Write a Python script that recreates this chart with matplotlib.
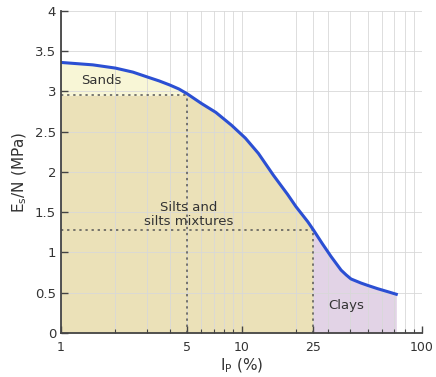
import numpy as np
import matplotlib
matplotlib.use("Agg")
import matplotlib.pyplot as plt
from matplotlib.ticker import FixedLocator, NullFormatter

# Curve: plasticity index (%) vs Es/N (MPa)
ip = [1, 1.5, 2, 2.5, 3, 3.5, 4, 4.5, 5, 6, 7.2, 8.8, 10.5, 12.4, 15, 18, 20, 23.3, 25,
      28, 31.3, 35.6, 38, 40.4, 45.8, 50, 56.6, 65, 72]
esn = [3.36, 3.33, 3.29, 3.24, 3.18, 3.13, 3.08, 3.03, 2.97, 2.85, 2.74, 2.58, 2.42, 2.23,
       1.96, 1.72, 1.57, 1.38, 1.28, 1.11, 0.95, 0.78, 0.72, 0.67, 0.62, 0.59, 0.55, 0.51,
       0.48]

sand_limit = 5
silt_limit = 25
sand_level = 2.95
silt_level = 1.28

xticks = [1, 5, 10, 25, 100]
yticks = [0, 0.5, 1, 1.5, 2, 2.5, 3, 3.5, 4]

ip = np.array(ip)
esn = np.array(esn)

fig = plt.figure(figsize=(4.36, 3.77), dpi=100)
ax = fig.add_axes([0.140, 0.117, 0.828, 0.854])

# filled zones
m = ip <= sand_limit
ax.fill_between(ip[m], sand_level, esn[m], color='#f8f6d6', lw=0, zorder=1)
m = ip <= silt_limit
ax.fill_between(ip[m], 0, np.where(ip[m] < sand_limit, sand_level, esn[m]),
                color='#ebe1b8', lw=0, zorder=1)
m = ip >= silt_limit
ax.fill_between(ip[m], 0, esn[m], color='#e2d3e6', lw=0, zorder=1)

# dotted guide lines
dot = dict(color='#555555', ls=(0, (1.5, 2.5)), lw=1.1, zorder=3)
ax.plot([1, sand_limit], [sand_level, sand_level], **dot)
ax.plot([sand_limit, sand_limit], [0, sand_level], **dot)
ax.plot([1, silt_limit], [silt_level, silt_level], **dot)
ax.plot([silt_limit, silt_limit], [0, silt_level], **dot)

ax.plot(ip, esn, color='#2b4fd3', lw=2.2, zorder=4, solid_joinstyle='round')

ax.set_xscale('log')
ax.set_xlim(1, 100)
ax.set_ylim(0, 4)
ax.xaxis.set_major_locator(FixedLocator(xticks))
ax.set_xticklabels([str(t) for t in xticks])
ax.xaxis.set_minor_locator(FixedLocator([2, 3, 4, 6, 7, 8, 9, 20, 30, 40, 50, 60, 70, 80, 90]))
ax.xaxis.set_minor_formatter(NullFormatter())
ax.set_yticks(yticks)
ax.set_yticklabels(['0', '0.5', '1', '1.5', '2', '2.5', '3', '3.5', '4'])

ax.grid(True, which='both', color='#d8d8d8', lw=0.6, zorder=2)
ax.set_axisbelow(False)
for s in ['top', 'right']:
    ax.spines[s].set_visible(False)
for s in ['left', 'bottom']:
    ax.spines[s].set_color('#444444')
    ax.spines[s].set_linewidth(1.3)
    ax.spines[s].set_zorder(5)

ax.tick_params(which='major', direction='in', length=5, width=1, color='#444444',
               labelsize=9.5, labelcolor='#333333')
ax.tick_params(which='minor', direction='in', length=3, width=0.8, color='#444444')
ax.tick_params(axis='x', pad=6, labelsize=9)

ax.set_xlabel('I$_\\mathrm{P}$ (%)', fontsize=11, color='#333333', labelpad=2)
ax.set_ylabel('E$_\\mathrm{s}$/N (MPa)', fontsize=11, color='#333333', labelpad=4)

ax.text(1.68, 3.13, 'Sands', fontsize=9.5, color='#333333', ha='center', va='center', zorder=6)
ax.text(5.1, 1.47, 'Silts and\nsilts mixtures', fontsize=9.5, color='#333333', ha='center',
        va='center', linespacing=1.1, zorder=6)
ax.text(38, 0.34, 'Clays', fontsize=9.5, color='#333333', ha='center', va='center', zorder=6)

fig.savefig('out.png', dpi=100)
